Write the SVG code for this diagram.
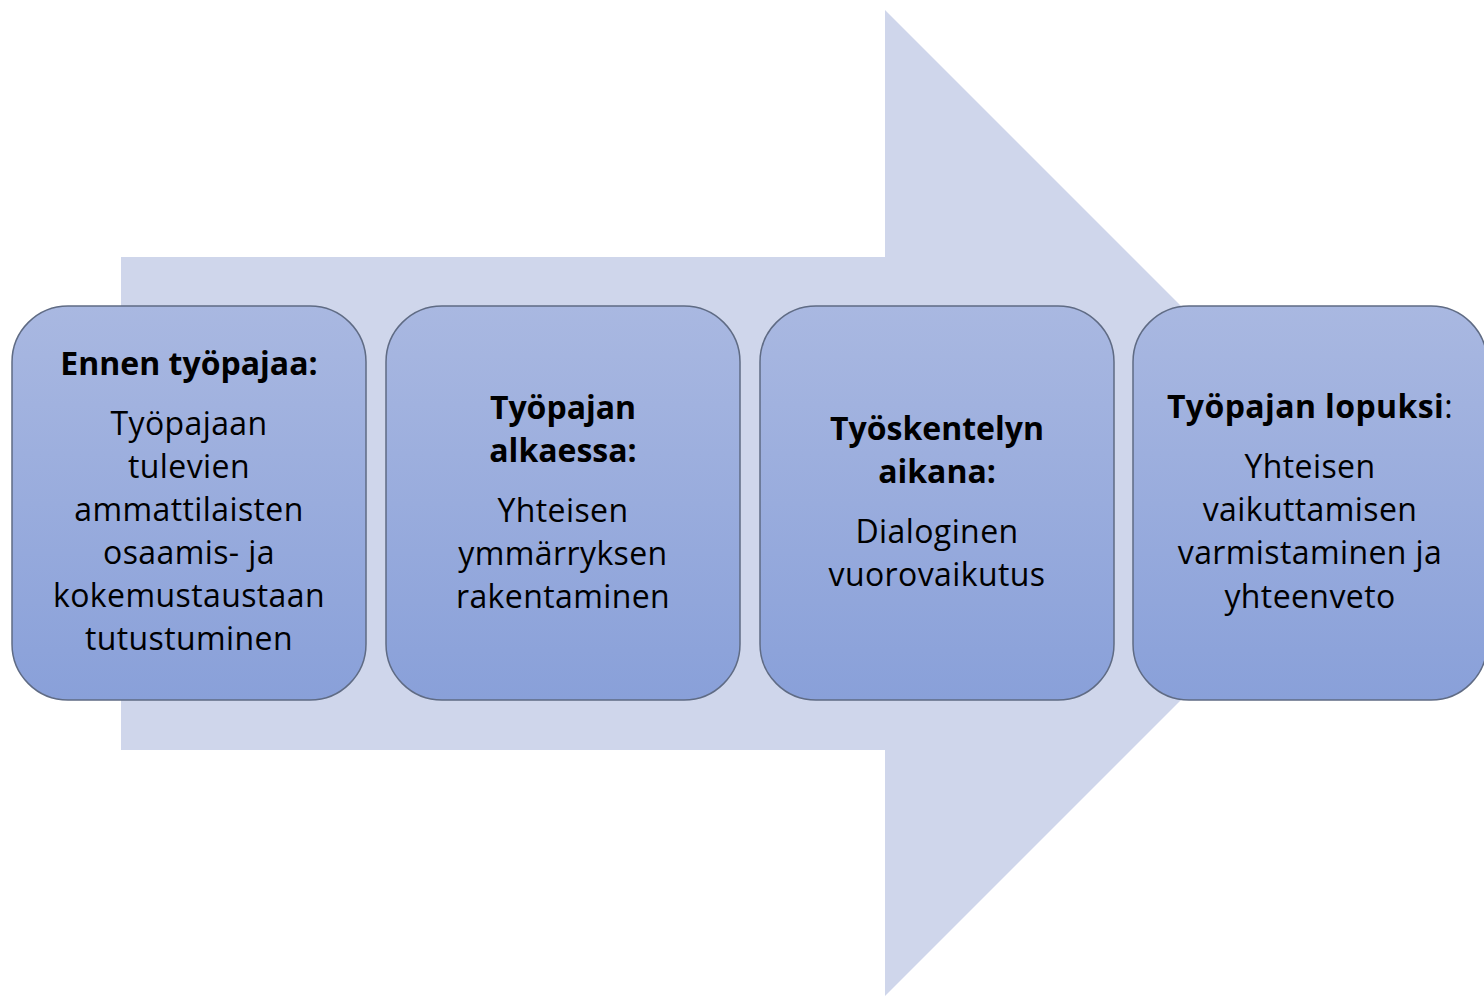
<svg xmlns="http://www.w3.org/2000/svg" width="1484" height="996" viewBox="0 0 1484 996">
  <defs>
    <linearGradient id="boxGrad" x1="0" y1="0" x2="0" y2="1">
      <stop offset="0" stop-color="#a9b8e1"/>
      <stop offset="1" stop-color="#89a0d9"/>
    </linearGradient>
    <style>
      .box { fill: url(#boxGrad); stroke: #5f6b84; stroke-width: 1.5; }
      .t { font-family: "Open Sans", "Liberation Sans", sans-serif; font-size: 32px; fill: #000; text-anchor: middle; letter-spacing: 0.4px; }
      .b { font-weight: bold; letter-spacing: 0; }
    </style>
  </defs>
  <rect width="1484" height="996" fill="#ffffff"/>
  <g id="connectors">
    <polygon id="arrow" points="121,257 885,257 885,10 1378,503 885,996 885,750 121,750" fill="#cfd6eb"/>
  </g>
  <g id="node1">
    <rect class="box" x="12" y="306" width="354" height="394" rx="56" ry="56"/>
    <text class="t b" x="189" y="375">Ennen työpajaa:</text>
    <text class="t" x="189" y="435">Työpajaan</text>
    <text class="t" x="189" y="478">tulevien</text>
    <text class="t" x="189" y="521">ammattilaisten</text>
    <text class="t" x="189" y="564">osaamis- ja</text>
    <text class="t" x="189" y="607">kokemustaustaan</text>
    <text class="t" x="189" y="650">tutustuminen</text>
  </g>
  <g id="node2">
    <rect class="box" x="386" y="306" width="354" height="394" rx="56" ry="56"/>
    <text class="t b" x="563" y="419">Työpajan</text>
    <text class="t b" x="563" y="462">alkaessa:</text>
    <text class="t" x="563" y="522">Yhteisen</text>
    <text class="t" x="563" y="565">ymmärryksen</text>
    <text class="t" x="563" y="608">rakentaminen</text>
  </g>
  <g id="node3">
    <rect class="box" x="760" y="306" width="354" height="394" rx="56" ry="56"/>
    <text class="t b" x="937" y="440">Työskentelyn</text>
    <text class="t b" x="937" y="483">aikana:</text>
    <text class="t" x="937" y="543">Dialoginen</text>
    <text class="t" x="937" y="586">vuorovaikutus</text>
  </g>
  <g id="node4">
    <rect class="box" x="1133" y="306" width="354" height="394" rx="56" ry="56"/>
    <text class="t" x="1310" y="418"><tspan font-weight="bold">Työpajan lopuksi</tspan>:</text>
    <text class="t" x="1310" y="478">Yhteisen</text>
    <text class="t" x="1310" y="521">vaikuttamisen</text>
    <text class="t" x="1310" y="564">varmistaminen ja</text>
    <text class="t" x="1310" y="608">yhteenveto</text>
  </g>
</svg>
